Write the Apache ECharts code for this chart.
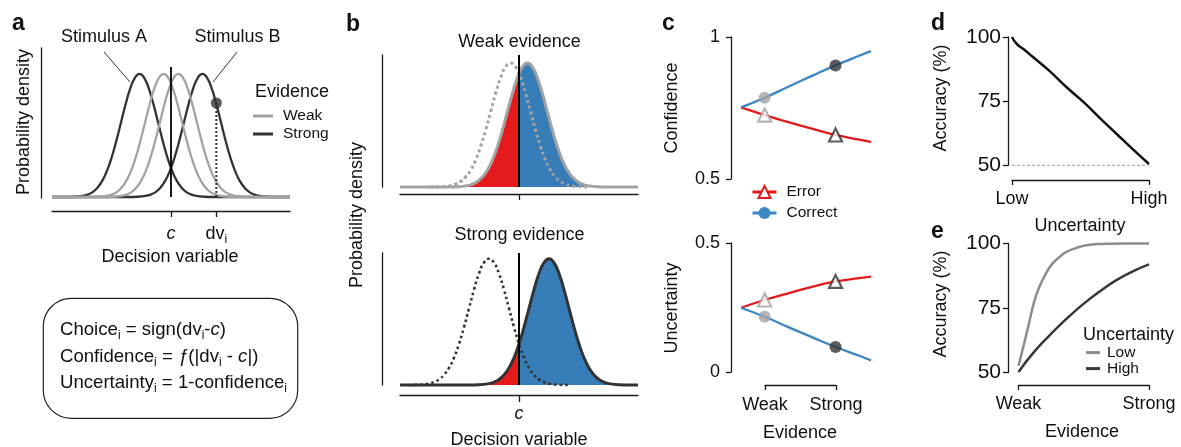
<!DOCTYPE html>
<html><head><meta charset="utf-8">
<script src="https://cdn.jsdelivr.net/npm/echarts@6/dist/echarts.min.js"></script>
<style>html,body{margin:0;padding:0;background:#fff}#chart{width:1181px;height:447px}</style>
</head><body><div id="chart"></div>
<script>
// ================= DATA =================
// Panels a & b: the bell-shaped density profile
// (offset from the curve's mean in SD units, relative height)
const bellOffset = [-4, -3.5, -3, -2.75, -2.5, -2.25, -2, -1.75, -1.5, -1.25, -1, -0.75, -0.5, -0.25, 0, 0.25, 0.5, 0.75, 1, 1.25, 1.5, 1.75, 2, 2.25, 2.5, 2.75, 3, 3.5, 4];
const bellHeight = [0.000, 0.002, 0.011, 0.023, 0.044, 0.080, 0.135, 0.216, 0.325, 0.458, 0.607, 0.755, 0.882, 0.969, 1.000, 0.969, 0.882, 0.755, 0.607, 0.458, 0.325, 0.216, 0.135, 0.080, 0.044, 0.023, 0.011, 0.002, 0.000];

// Panel a
const aRange = [-6.43, 6.43];
const aCurveNames = ['Strong', 'Strong', 'Weak', 'Weak'];
const aCurveMeans = [-1.7, 1.7, -0.4, 0.4];
const aTickValues = [0, 2.45];
const aTickLabels = ['{it|c}', '{n|dv}{s|i}'];
const aCriterion = [[0, 0], [0, 1.057]];
const aSample = [[2.45, 0.764]];
const aSampleDrop = [[2.45, 0], [2.45, 0.764]];
const aLeaderA = [[-3.62, 1.179], [-2.22, 0.935]];
const aLeaderB = [[3.57, 1.179], [2.27, 0.935]];

// Panel b  (means: [other stimulus (dotted), presented stimulus (filled)])
const bRange = [-5.95, 5.95];
const bWeakMeans = [-0.42, 0.42];
const bStrongMeans = [-1.5, 1.5];
const bCriterionTop = [[0, 0], [0, 1.065]];
const bCriterionBottom = [[0, 0], [0, 1.045]];

// Panel c  (evidence axis: Weak = 1, Strong = 4)
const cEvidence = [0, 1, 2, 3, 4, 5, 5.5];
const confCorrect = [0.752, 0.786, 0.825, 0.863, 0.900, 0.934, 0.950];
const confError = [0.752, 0.725, 0.700, 0.677, 0.655, 0.639, 0.631];
const uncCorrect = [0.249, 0.214, 0.174, 0.135, 0.097, 0.063, 0.045];
const uncError = [0.249, 0.279, 0.305, 0.330, 0.351, 0.364, 0.370];
const markerEvidence = [1, 4];
const markerConfCorrect = [0.786, 0.900];
const markerConfError = [0.725, 0.655];
const markerUncCorrect = [0.214, 0.097];
const markerUncError = [0.279, 0.351];
const cTickValues = [1, 4];
const cTickLabels = ['Weak', 'Strong'];

// Panel d
const dUncertainty = [0, 0.034, 0.083, 0.155, 0.277, 0.399, 0.521, 0.642, 0.764, 0.885, 1];
const dAccuracy = [100, 97.3, 95.3, 92.1, 86.6, 80.4, 74.7, 68.4, 62.2, 56.1, 50.5];
const dChance = [[0, 50], [1, 50]];
const dTickValues = [0, 1];
const dTickLabels = ['Low', 'High'];

// Panel e
const eLowX = [0, 0.04, 0.08, 0.12, 0.16, 0.21, 0.26, 0.315, 0.365, 0.445, 0.52, 0.62, 0.8, 1];
const eLowY = [52.6, 60.6, 69.0, 77.4, 83.2, 88.4, 92.2, 94.8, 96.7, 98.3, 99.3, 99.8, 100, 100];
const eHighX = [0, 0.11, 0.24, 0.37, 0.5, 0.625, 0.75, 0.88, 1];
const eHighY = [50.2, 57.4, 64.5, 70.9, 76.7, 81.5, 85.8, 89.3, 91.9];
const eTickValues = [0, 1];
const eTickLabels = ['Weak', 'Strong'];

// ================= STYLE =================
const FF = 'Liberation Sans, Arial, Helvetica, sans-serif';
const TXT = '#111';
const AXC = '#1a1a1a';
const GREY = '#a3a3a3';
const DARK = '#333333';
const RED = '#e41a1c';
const BLUE_FILL = '#377eb8';
const BLUE_LINE = '#3a86c6';
const markerColors = [GREY, DARK];

const zip = (xs, ys) => xs.map((x, i) => [x, ys[i]]);
function bell(mean, range) {
  const pts = bellOffset.map((o, i) => [mean + o, bellHeight[i]]);
  return range ? [[range[0], 0]].concat(pts, [[range[1], 0]]) : pts;
}
function subRich(size) {
  return {
    n: {fontSize: size, fontFamily: FF, color: TXT, lineHeight: 24},
    it: {fontSize: size, fontFamily: FF, color: TXT, lineHeight: 24, fontStyle: 'italic'},
    s: {fontSize: 12, fontFamily: FF, color: TXT, lineHeight: 12, verticalAlign: 'bottom'}
  };
}
const SUBRICH = subRich(18);
const BOXRICH = subRich(18.6);

function axis(gridIndex, o) {
  const a = {
    type: 'value', gridIndex, min: o.min, max: o.max,
    position: o.position, offset: o.offset || 0, show: o.show !== false,
    axisLine: {show: !!o.line, onZero: false, lineStyle: {color: AXC, width: 1.3}},
    axisTick: {show: !!o.ticks, length: o.tickLen || 5, lineStyle: {color: AXC, width: 1.3}},
    axisLabel: {show: !!o.labels, margin: o.margin || 8, color: TXT, fontSize: o.fontSize || 18, fontFamily: FF},
    splitLine: {show: false}
  };
  if (o.interval != null) a.interval = o.interval;
  if (o.custom) { a.axisTick.customValues = o.custom; a.axisLabel.customValues = o.custom; }
  if (o.formatter) a.axisLabel.formatter = o.formatter;
  if (o.rich) a.axisLabel.rich = o.rich;
  if (o.fontStyle) a.axisLabel.fontStyle = o.fontStyle;
  return a;
}
const labelFrom = (vals, labels) => (v) => { const i = vals.indexOf(v); return i < 0 ? '' : labels[i]; };

const grids = [
  {left: 52, top: 48, width: 238, height: 150},       // 0 a
  {left: 400, top: 55, width: 238, height: 132},      // 1 b top
  {left: 400, top: 253, width: 238, height: 132},     // 2 b bottom
  {left: 741, top: 37, width: 130, height: 142},      // 3 c top
  {left: 741, top: 243, width: 130, height: 129},     // 4 c bottom
  {left: 765, top: 372, width: 71, height: 13},       // 5 c evidence bracket
  {left: 1012, top: 37, width: 137, height: 128.3},   // 6 d
  {left: 1018.5, top: 243.5, width: 130.5, height: 129} // 7 e
].map(g => Object.assign({show: false, containLabel: false, outerBoundsMode: 'none'}, g));

const xAxis = [
  axis(0, {min: aRange[0], max: aRange[1], position: 'bottom', offset: 13, line: true, ticks: true, tickLen: 6, labels: true, custom: aTickValues, margin: 10.7, formatter: labelFrom(aTickValues, aTickLabels), rich: SUBRICH}),
  axis(1, {min: bRange[0], max: bRange[1], position: 'bottom', offset: 7, line: true, ticks: true, tickLen: 6, custom: [0]}),
  axis(2, {min: bRange[0], max: bRange[1], position: 'bottom', offset: 10, line: true, ticks: true, tickLen: 7, labels: true, custom: [0], margin: 10, formatter: () => 'c', fontStyle: 'italic'}),
  axis(3, {min: 0, max: 5.5, show: false}),
  axis(4, {min: 0, max: 5.5, show: false}),
  axis(5, {min: 1, max: 4, position: 'bottom', line: true, ticks: true, tickLen: 5, labels: true, custom: cTickValues, margin: 11.4, formatter: labelFrom(cTickValues, cTickLabels)}),
  axis(6, {min: 0, max: 1, position: 'bottom', offset: 14.7, line: true, ticks: true, tickLen: 5, labels: true, custom: dTickValues, margin: 9.7, formatter: labelFrom(dTickValues, dTickLabels)}),
  axis(7, {min: 0, max: 1, position: 'bottom', offset: 12.5, line: true, ticks: true, tickLen: 5, labels: true, custom: eTickValues, margin: 9.7, formatter: labelFrom(eTickValues, eTickLabels)})
];
const yAxis = [
  axis(0, {min: -0.008, max: 1.211, position: 'left', offset: 11, line: true}),
  axis(1, {min: 0, max: 1.065, position: 'left', offset: 18, line: true}),
  axis(2, {min: 0, max: 1.045, position: 'left', offset: 18, line: true}),
  axis(3, {min: 0.5, max: 1, interval: 0.5, position: 'left', offset: 10, line: true, ticks: true, tickLen: 5, labels: true, margin: 11}),
  axis(4, {min: 0, max: 0.5, interval: 0.5, position: 'left', offset: 10, line: true, ticks: true, tickLen: 5, labels: true, margin: 11}),
  axis(5, {min: 0, max: 1, show: false}),
  axis(6, {min: 50, max: 100, interval: 25, position: 'left', offset: 4, line: true, ticks: true, tickLen: 5, labels: true, margin: 7, fontSize: 21}),
  axis(7, {min: 50, max: 100, interval: 25, position: 'left', offset: 10.5, line: true, ticks: true, tickLen: 5, labels: true, margin: 7, fontSize: 21})
];

// ================= SERIES =================
const series = [];
function add(s) { series.push(Object.assign({animation: false, silent: true, clip: false}, s)); return series.length - 1; }
function line(g, data, color, width, extra) {
  return add(Object.assign({type: 'line', xAxisIndex: g, yAxisIndex: g, data, showSymbol: false, symbol: 'none',
    lineStyle: {color, width}, itemStyle: {color}}, extra || {}));
}

// ---- a
aCurveMeans.forEach((m, i) => {
  const c = aCurveNames[i] === 'Weak' ? GREY : DARK;
  line(0, bell(m, aRange), c, 2.3, {name: aCurveNames[i], smooth: true, z: aCurveNames[i] === 'Weak' ? 3 : 2});
});
line(0, aCriterion, '#000', 1.8, {z: 4});
line(0, aSampleDrop, DARK, 2, {lineStyle: {color: DARK, width: 2, type: [2, 2]}, z: 4});
add({type: 'scatter', xAxisIndex: 0, yAxisIndex: 0, data: aSample, symbolSize: 11, itemStyle: {color: DARK}, z: 6});
line(0, aLeaderA, DARK, 1);
line(0, aLeaderB, DARK, 1);

// ---- b
const fillTop = line(1, bell(bWeakMeans[1], bRange), BLUE_FILL, 0, {smooth: true, areaStyle: {opacity: 1}, lineStyle: {width: 0, opacity: 0}, z: 1});
line(1, bell(bWeakMeans[0]), GREY, 3, {smooth: true, lineStyle: {color: GREY, width: 3, type: [3, 3]}, z: 2});
line(1, bell(bWeakMeans[1], bRange), GREY, 3, {smooth: true, z: 3});
line(1, bCriterionTop, '#000', 2, {z: 4});
const fillBottom = line(2, bell(bStrongMeans[1], bRange), BLUE_FILL, 0, {smooth: true, areaStyle: {opacity: 1}, lineStyle: {width: 0, opacity: 0}, z: 1});
line(2, bell(bStrongMeans[0]), DARK, 2.6, {smooth: true, lineStyle: {color: DARK, width: 2.6, type: [2.6, 3]}, z: 2});
line(2, bell(bStrongMeans[1], bRange), DARK, 3, {smooth: true, z: 3});
line(2, bCriterionBottom, '#000', 2, {z: 4});

// ---- c
function cPanel(g, corr, err, mCorr, mErr) {
  line(g, zip(cEvidence, err), RED, 2.3, {name: 'Error', smooth: true, symbol: 'triangle',
    itemStyle: {color: '#fff', borderColor: RED, borderWidth: 2}});
  line(g, zip(cEvidence, corr), BLUE_LINE, 2.3, {name: 'Correct', smooth: true, symbol: 'circle',
    itemStyle: {color: BLUE_LINE}});
  add({type: 'scatter', xAxisIndex: g, yAxisIndex: g, symbol: 'circle', symbolSize: 12, z: 6,
    data: markerEvidence.map((x, i) => ({value: [x, mCorr[i]], itemStyle: {color: markerColors[i]}}))});
  add({type: 'scatter', xAxisIndex: g, yAxisIndex: g, symbol: 'triangle', symbolSize: 13, z: 6,
    data: markerEvidence.map((x, i) => ({value: [x, mErr[i]], itemStyle: {color: '#fff', borderColor: markerColors[i], borderWidth: 2.2}}))});
}
cPanel(3, confCorrect, confError, markerConfCorrect, markerConfError);
cPanel(4, uncCorrect, uncError, markerUncCorrect, markerUncError);

// ---- d
line(6, dChance, '#999', 1, {lineStyle: {color: '#999', width: 1, type: [3, 2]}, z: 1});
line(6, zip(dUncertainty, dAccuracy), '#111', 2.5, {smooth: true, z: 3});

// ---- e
line(7, zip(eLowX, eLowY), '#8c8c8c', 2.5, {name: 'Low', smooth: true});
line(7, zip(eHighX, eHighY), '#383838', 2.5, {name: 'High', smooth: true});

// ================= TEXT =================
function T(text, x, y, o) {
  o = o || {};
  return {type: 'text', x, y, rotation: o.rot || 0, silent: true, z: 10,
    style: {text, fill: TXT, fontSize: o.size || 18, fontFamily: FF, fontWeight: o.bold ? 'bold' : 'normal',
      align: o.align || 'center', verticalAlign: o.va || 'middle', rich: o.rich}};
}
const R90 = Math.PI / 2;
const graphics = [
  T('a', 12, 24, {size: 23, bold: true, align: 'left'}),
  T('b', 346, 25, {size: 23, bold: true, align: 'left'}),
  T('c', 662, 24, {size: 23, bold: true, align: 'left'}),
  T('d', 931, 24, {size: 23, bold: true, align: 'left'}),
  T('e', 931, 232, {size: 23, bold: true, align: 'left'}),
  T('Stimulus A', 104, 37),
  T('Stimulus B', 237.5, 37),
  T('Evidence', 255, 92, {align: 'left'}),
  T('Probability density', 24, 122, {rot: R90}),
  T('Decision variable', 170, 257),
  {type: 'rect', silent: true, shape: {x: 43.3, y: 298.3, width: 254.4, height: 120, r: 28},
    style: {fill: 'none', stroke: '#222', lineWidth: 1.2}},
  T('{n|Choice}{s|i}{n| = sign(dv}{s|i}{n|-}{it|c}{n|)}', 60, 330, {align: 'left', rich: BOXRICH}),
  T('{n|Confidence}{s|i}{n| = }{it|ƒ}{n|(|dv}{s|i}{n| - }{it|c}{n||)}', 60, 357, {align: 'left', rich: BOXRICH}),
  T('{n|Uncertainty}{s|i}{n| = 1-confidence}{s|i}', 60, 383, {align: 'left', rich: BOXRICH}),
  T('Weak evidence', 519.5, 42),
  T('Strong evidence', 519.5, 235),
  T('Probability density', 357, 215, {rot: R90}),
  T('Decision variable', 519, 440),
  T('Confidence', 672, 108, {rot: R90}),
  T('Uncertainty', 672, 308, {rot: R90}),
  T('Evidence', 800, 432.7),
  T('Accuracy (%)', 941.5, 98, {rot: R90}),
  T('Uncertainty', 1080, 226),
  T('Accuracy (%)', 941.5, 304, {rot: R90}),
  T('Evidence', 1082, 431.7),
  T('Uncertainty', 1083, 335, {align: 'left'})
];

const legendText = (lh, pad) => ({fontFamily: FF, fontSize: 15.5, color: TXT, lineHeight: lh, padding: [0, 0, 0, pad]});
const option = {
  animation: false,
  backgroundColor: '#fff',
  textStyle: {fontFamily: FF},
  grid: grids,
  xAxis, yAxis,
  visualMap: [{type: 'piecewise', show: false, dimension: 0, seriesIndex: [fillTop, fillBottom],
    pieces: [{gte: -20, lt: 0, color: RED}, {gte: 0, lte: 20, color: BLUE_FILL}],
    outOfRange: {color: BLUE_FILL}}],
  legend: [
    {data: ['Weak', 'Strong'], orient: 'vertical', left: 253, top: 107, icon: 'rect', itemWidth: 20, itemHeight: 3,
      itemGap: 0, padding: 0, selectedMode: false, textStyle: legendText(18, 5)},
    {data: ['Error', 'Correct'], orient: 'vertical', left: 751, top: 181.5, itemWidth: 24, itemHeight: 15,
      itemGap: 0, padding: 0, selectedMode: false, lineStyle: {width: 3}, textStyle: legendText(21, 5)},
    {data: ['Low', 'High'], orient: 'vertical', left: 1086, top: 344.6, icon: 'rect', itemWidth: 14, itemHeight: 3,
      itemGap: 0, padding: 0, selectedMode: false, textStyle: legendText(15.4, 2)}
  ],
  series,
  graphic: {elements: graphics}
};
const chart = echarts.init(document.getElementById('chart'), null, {renderer: 'canvas'});
chart.setOption(option);
</script></body></html>
